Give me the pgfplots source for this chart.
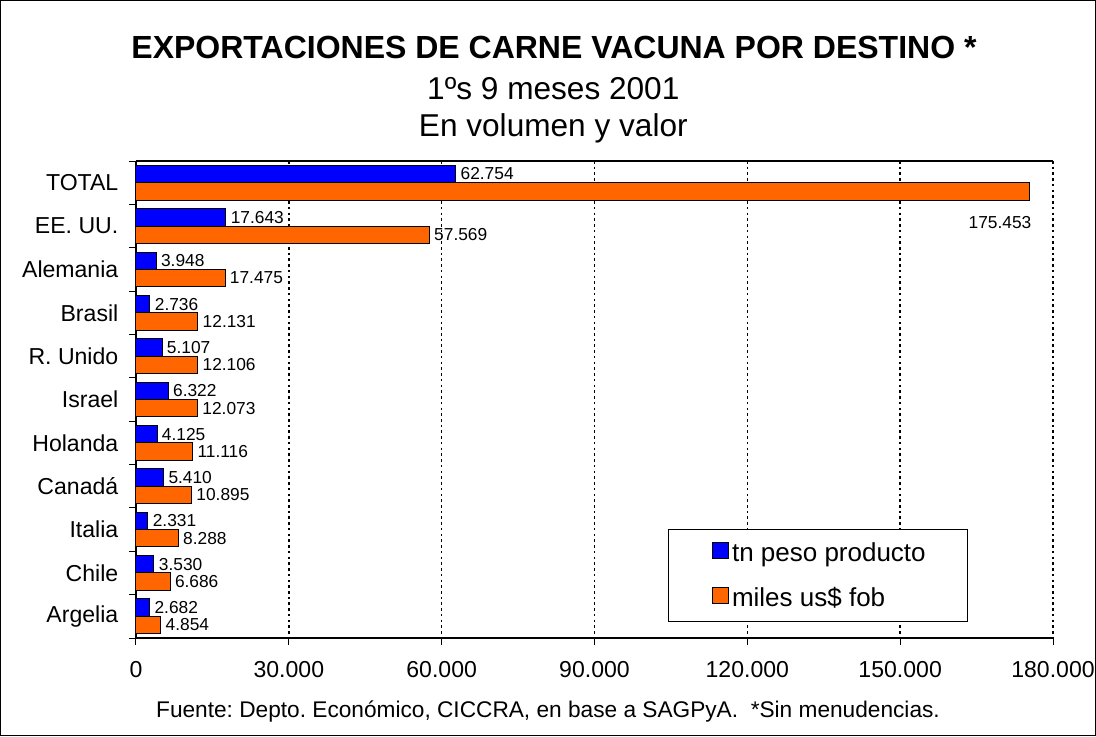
\documentclass[border=0pt]{standalone}
\usepackage{fontspec}
\setmainfont{Liberation Sans}
\usepackage{pgfplots}
\pgfplotsset{compat=1.18}
\definecolor{Azul}{HTML}{0000FF}
\definecolor{Naranja}{HTML}{FF6600}
\pgfkeys{/pgf/number format/assume math mode=true}
\frenchspacing

\begin{document}
\begin{tikzpicture}
  \useasboundingbox (0,0) rectangle (822pt,552pt);
  \draw[line width=0.75pt] (0.375pt,0.375pt) rectangle (821.625pt,551.625pt);

  \node[anchor=base,font=\bfseries\fontsize{24}{28}\selectfont] at (415.5pt,507.75pt)
    {EXPORTACIONES DE CARNE VACUNA POR DESTINO *};
  \node[anchor=base,font=\fontsize{23.7}{28}\selectfont] at (415pt,477pt) {1ºs 9 meses 2001};
  \node[anchor=base,font=\fontsize{23.7}{28}\selectfont] at (415pt,449.25pt) {En volumen y valor};
  \node[anchor=base,font=\fontsize{17}{20}\selectfont] at (411pt,14.25pt)
    {Fuente: Depto. Económico, CICCRA, en base a SAGPyA.\ \ *Sin menudencias.};

  \begin{axis}[
      at={(102pt,73.5pt)}, anchor=south west,
      scale only axis,
      width=687.75pt, height=357.75pt,
      xbar, bar width=0.4,
      xmin=0, xmax=180000,
      ymin=-0.5, ymax=10.5,
      y dir=reverse,
      axis x line*=box, axis y line*=left,
      axis line style={black, line width=0.9pt},
      xtick={0,30000,60000,90000,120000,150000,180000},
      xtick pos=bottom, ytick pos=left,
      ytick={0,...,10},
      yticklabels={TOTAL,EE. UU.,Alemania,Brasil,R. Unido,Israel,Holanda,Canadá,Italia,Chile,Argelia},
      minor ytick={-0.5,0.5,...,10.5},
      every major y tick/.append style={draw=none},
      tick align=outside,
      major tick length=5.25pt, minor tick length=5.25pt,
      tick style={black, line width=0.75pt},
      tick label style={font=\fontsize{17.3}{20}\selectfont},
      yticklabel style={xshift=-4.5pt},
      scaled x ticks=false,
      xticklabel style={yshift=-9pt, /pgf/number format/fixed, /pgf/number format/1000 sep={.}},
      xmajorgrids,
      grid style={black, line width=1.1pt, dash pattern=on 1.9pt off 2.4pt},
      point meta=x,
      nodes near coords,
      nodes near coords style={font=\fontsize{13}{15}\selectfont, anchor=west,
        /pgf/number format/fixed, /pgf/number format/1000 sep={.}},
      every axis plot/.append style={draw=black, line width=0.75pt},
      legend image code/.code={%
        \path (0pt,0pt);
        \draw[#1, draw=black, line width=0.75pt] (28pt,-4pt) rectangle (40pt,8pt);},
      legend style={at={(0.580,0.0335)}, anchor=south west, draw=black, line width=0.75pt,
        inner xsep=5pt, inner ysep=7.5pt, row sep=14.25pt,
        font=\fontsize{19.5}{23}\selectfont, cells={anchor=west}},
    ]
    \addplot[fill=Azul, bar shift=-0.2] coordinates {
      (62754,0) (17643,1) (3948,2) (2736,3) (5107,4) (6322,5)
      (4125,6) (5410,7) (2331,8) (3530,9) (2682,10)
    };
    \addlegendentry{\makebox[169.5pt][l]{tn peso producto}}
    \addplot[fill=Naranja, bar shift=0.2] coordinates {
      (57569,1) (17475,2) (12131,3) (12106,4) (12073,5)
      (11116,6) (10895,7) (8288,8) (6686,9) (4854,10)
    };
    \addlegendentry{\makebox[169.5pt][l]{miles us\$ fob}}
    \addplot[fill=Naranja, bar shift=0.2, forget plot,
      nodes near coords style={anchor=east, inner sep=0pt, xshift=1.5pt, yshift=-23.25pt}]
      coordinates {(175453,0)};
  \end{axis}
\end{tikzpicture}
\end{document}
